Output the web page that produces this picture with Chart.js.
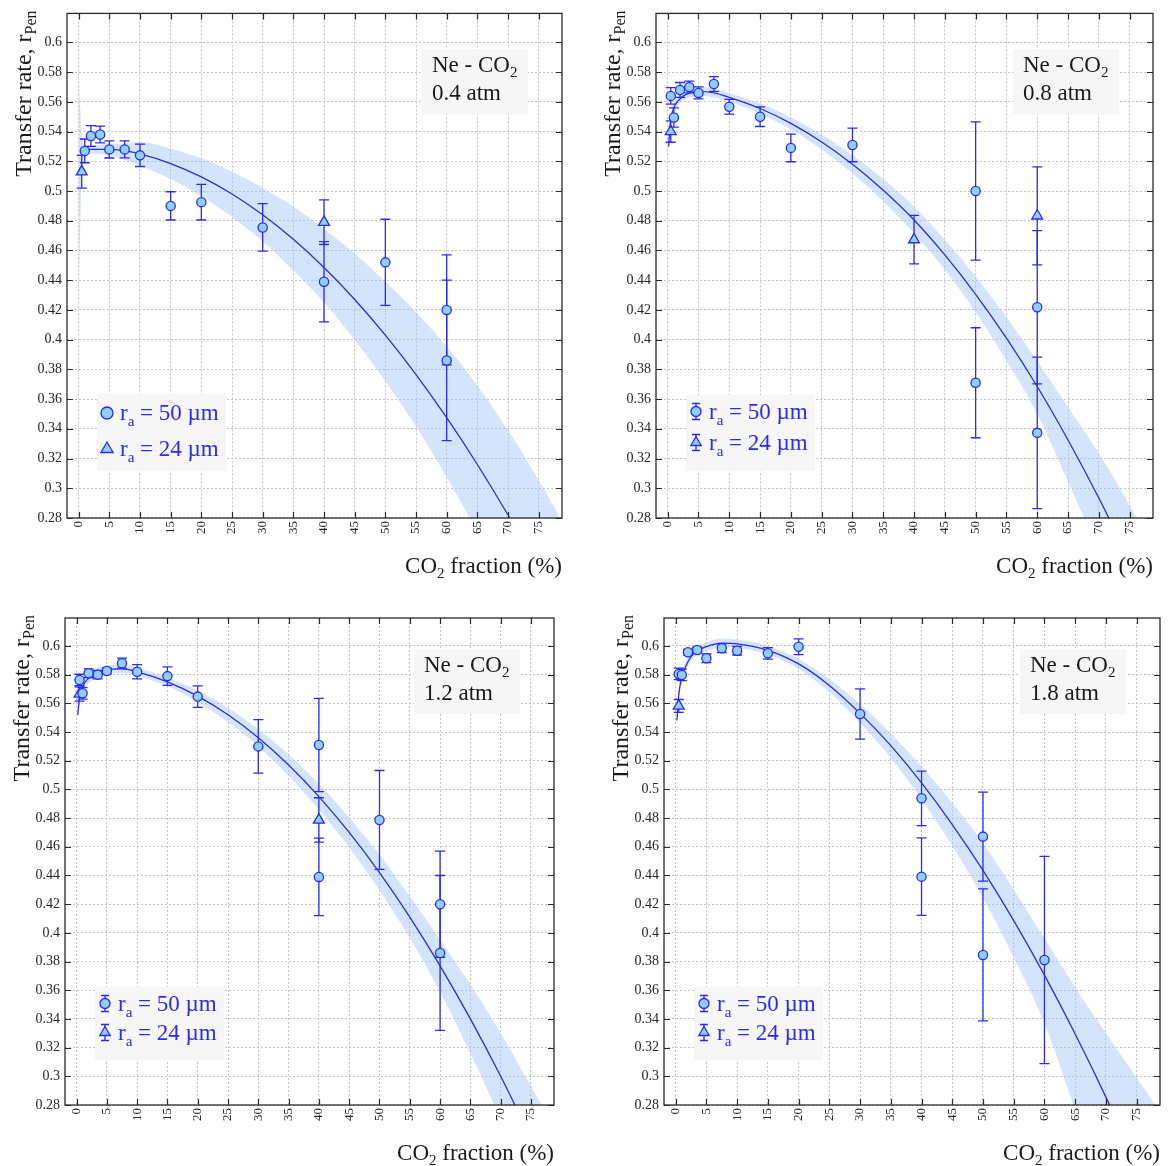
<!DOCTYPE html>
<html>
<head>
<meta charset="utf-8">
<title>Transfer rate vs CO2 fraction</title>
<script src="https://cdn.jsdelivr.net/npm/chart.js@4.4.1/dist/chart.umd.min.js"></script>
<style>
  html, body { margin: 0; padding: 0; background: #fff; overflow: hidden; }
  .panel { position: absolute; width: 584px; height: 583px; }
</style>
</head>
<body>
<div class="panel" style="left:0;top:0"><canvas id="c1" width="584" height="583"></canvas></div>
<div class="panel" style="left:584px;top:0"><canvas id="c2" width="584" height="583"></canvas></div>
<div class="panel" style="left:0;top:583px"><canvas id="c3" width="584" height="583"></canvas></div>
<div class="panel" style="left:584px;top:583px"><canvas id="c4" width="584" height="583"></canvas></div>
<script>
// axis ticks
const xTicks = [0, 5, 10, 15, 20, 25, 30, 35, 40, 45, 50, 55, 60, 65, 70, 75];
const yTicks = [0.28, 0.30, 0.32, 0.34, 0.36, 0.38, 0.40, 0.42, 0.44, 0.46, 0.48, 0.50, 0.52, 0.54, 0.56, 0.58, 0.60];
const pressures = ['0.4 atm', '0.8 atm', '1.2 atm', '1.8 atm'];

// ---- 0.4 atm ----
const p1CircX = [1, 2, 3.5, 5, 7.5, 10, 15, 20, 30, 40, 50, 60, 60];
const p1CircY = [0.527, 0.537, 0.538, 0.528, 0.528, 0.524, 0.490, 0.4925, 0.4755, 0.439, 0.452, 0.420, 0.386];
const p1CircE = [0.008, 0.007, 0.0056, 0.0058, 0.0057, 0.0075, 0.0095, 0.012, 0.016, 0.027, 0.029, 0.037, 0.054];
const p1TriX = [0.5, 40];
const p1TriY = [0.513, 0.479];
const p1TriE = [0.011, 0.015];
const p1FitX = [0.7, 1, 2, 3, 5, 7.5, 10, 15, 20, 25, 30, 35, 40, 45, 50, 55, 60, 65, 70, 75];
const p1FitY = [0.527, 0.5275, 0.528, 0.528, 0.528, 0.527, 0.525, 0.5185, 0.5095, 0.498, 0.484, 0.4675, 0.4485, 0.427, 0.403, 0.3765, 0.3475, 0.316, 0.282, 0.2455];
const p1BandX = [0.05, 0.25, 0.5, 1, 2, 3, 5, 7.5, 10, 15, 20, 25, 30, 35, 40, 45, 50, 55, 60, 65, 70, 75, 80];
const p1BandHi = [0.578, 0.556, 0.538, 0.531, 0.531, 0.531, 0.532, 0.532, 0.533, 0.5285, 0.522, 0.513, 0.502, 0.4895, 0.4745, 0.458, 0.439, 0.4185, 0.3955, 0.369, 0.339, 0.3055, 0.269];
const p1BandLo = [0.435, 0.47, 0.51, 0.523, 0.525, 0.525, 0.524, 0.521, 0.517, 0.508, 0.4965, 0.4825, 0.466, 0.4465, 0.425, 0.400, 0.372, 0.3415, 0.3075, 0.271, 0.232, 0.19, 0.15];

// ---- 0.8 atm ----
const p2CircX = [0.5, 1, 2, 3.5, 5, 7.5, 10, 15, 20, 30, 50, 50, 60, 60];
const p2CircY = [0.564, 0.5495, 0.568, 0.570, 0.566, 0.572, 0.5567, 0.550, 0.529, 0.531, 0.500, 0.371, 0.4218, 0.3373];
const p2CircE = [0.0055, 0.0065, 0.005, 0.004, 0.004, 0.005, 0.005, 0.0066, 0.0093, 0.0113, 0.0465, 0.037, 0.0516, 0.051];
const p2TriX = [0.5, 40, 60];
const p2TriY = [0.540, 0.4673, 0.4833];
const p2TriE = [0.0072, 0.0163, 0.033];
const p2FitX = [0.15, 0.3, 0.5, 1, 2, 3, 5, 7.5, 10, 15, 20, 25, 30, 35, 40, 45, 50, 55, 60, 65, 70, 75];
const p2FitY = [0.53, 0.54, 0.548, 0.556, 0.562, 0.565, 0.567, 0.566, 0.563, 0.5555, 0.5455, 0.533, 0.518, 0.5005, 0.4805, 0.457, 0.4305, 0.401, 0.3685, 0.3325, 0.2935, 0.2515];
const p2BandX = [0.15, 0.3, 0.5, 1, 2, 3, 5, 7.5, 10, 15, 20, 25, 30, 35, 40, 45, 50, 55, 60, 65, 70, 75, 80];
const p2BandHi = [0.534, 0.544, 0.551, 0.559, 0.565, 0.568, 0.570, 0.569, 0.566, 0.559, 0.5495, 0.538, 0.524, 0.508, 0.4895, 0.467, 0.4425, 0.415, 0.3855, 0.3545, 0.3235, 0.2885, 0.25];
const p2BandLo = [0.526, 0.536, 0.545, 0.553, 0.559, 0.562, 0.564, 0.563, 0.560, 0.552, 0.5415, 0.528, 0.512, 0.493, 0.4715, 0.447, 0.4185, 0.386, 0.350, 0.3045, 0.2575, 0.21, 0.16];

// ---- 1.2 atm ----
const p3CircX = [0.5, 1, 2, 3.5, 5, 7.5, 10, 15, 20, 30, 40, 40, 50, 60, 60];
const p3CircY = [0.5763, 0.567, 0.581, 0.580, 0.5826, 0.588, 0.582, 0.579, 0.5647, 0.530, 0.531, 0.439, 0.4787, 0.420, 0.386];
const p3CircE = [0.004, 0.004, 0.003, 0.003, 0.002, 0.0035, 0.005, 0.0064, 0.0075, 0.0186, 0.0325, 0.027, 0.0345, 0.037, 0.054];
const p3TriX = [0.5, 40];
const p3TriY = [0.5665, 0.4787];
const p3TriE = [0.005, 0.0155];
const p3FitX = [0.2, 0.5, 1, 2, 3, 5, 7.5, 10, 15, 20, 25, 30, 35, 40, 45, 50, 55, 60, 65, 70, 75];
const p3FitY = [0.552, 0.5635, 0.5715, 0.5775, 0.5805, 0.5835, 0.584, 0.582, 0.575, 0.565, 0.552, 0.536, 0.517, 0.495, 0.470, 0.442, 0.411, 0.377, 0.340, 0.300, 0.257];
const p3BandX = [0.2, 0.5, 1, 2, 3, 5, 7.5, 10, 15, 20, 25, 30, 35, 40, 45, 50, 55, 60, 65, 70, 75, 80];
const p3BandHi = [0.556, 0.567, 0.575, 0.581, 0.584, 0.5865, 0.587, 0.585, 0.578, 0.569, 0.557, 0.542, 0.5245, 0.504, 0.4805, 0.4545, 0.4255, 0.395, 0.364, 0.330, 0.293, 0.256];
const p3BandLo = [0.548, 0.560, 0.568, 0.574, 0.577, 0.5805, 0.581, 0.579, 0.572, 0.561, 0.547, 0.530, 0.5095, 0.486, 0.4595, 0.4295, 0.3965, 0.359, 0.316, 0.27, 0.221, 0.17];

// ---- 1.8 atm ----
const p4CircX = [0.5, 1, 2, 3.5, 5, 7.5, 10, 15, 20, 30, 40, 40, 50, 50, 60];
const p4CircY = [0.5805, 0.5798, 0.5956, 0.5972, 0.5914, 0.5984, 0.5967, 0.5949, 0.5995, 0.5526, 0.4938, 0.4392, 0.4671, 0.3846, 0.3811];
const p4CircE = [0.004, 0.004, 0.002, 0.002, 0.003, 0.003, 0.003, 0.004, 0.0055, 0.0175, 0.019, 0.027, 0.031, 0.046, 0.0722];
const p4TriX = [0.5];
const p4TriY = [0.5582];
const p4TriE = [0.0045];
const p4FitX = [0.2, 0.5, 1, 2, 3, 5, 7.5, 10, 15, 20, 25, 30, 35, 40, 45, 50, 55, 60, 65, 70, 75];
const p4FitY = [0.548, 0.566, 0.578, 0.589, 0.595, 0.5995, 0.602, 0.6015, 0.597, 0.5875, 0.5725, 0.553, 0.5305, 0.5045, 0.4755, 0.4435, 0.4085, 0.3705, 0.3295, 0.2855, 0.2385];
const p4BandX = [0.2, 0.5, 1, 2, 3, 5, 7.5, 10, 15, 20, 25, 30, 35, 40, 45, 50, 55, 60, 65, 70, 75, 80];
const p4BandHi = [0.553, 0.570, 0.581, 0.592, 0.598, 0.6025, 0.605, 0.6045, 0.600, 0.591, 0.577, 0.5595, 0.539, 0.516, 0.4905, 0.4625, 0.430, 0.396, 0.362, 0.330, 0.299, 0.268];
const p4BandLo = [0.543, 0.562, 0.575, 0.586, 0.592, 0.5965, 0.599, 0.5985, 0.594, 0.584, 0.568, 0.5465, 0.522, 0.493, 0.4605, 0.4245, 0.383, 0.337, 0.277, 0.22, 0.17, 0.12];

const BLUE = '#2a2af0';
const FIT_BLUE = '#2d2dd8';
const MARK_FILL = '#8fd0fb';
const BAND = 'rgba(160, 195, 250, 0.45)';
const SERIF = '"Liberation Serif", "DejaVu Serif", serif';

// where each plot area sits inside its 584x583 canvas
const layouts = [
  { yW: 67, padTop: 8, padRight: 22, xH: 65, boxTop: 36, legBottom: 47, legH: 77, rowA: 19, rowB: 55, errMarks: false },
  { yW: 72, padTop: 8, padRight: 15, xH: 65, boxTop: 36, legBottom: 47, legH: 76, rowA: 16.5, rowB: 47.5, errMarks: true },
  { yW: 65, padTop: 35, padRight: 30, xH: 61, boxTop: 31, legBottom: 45, legH: 73, rowA: 16.5, rowB: 45.5, errMarks: true },
  { yW: 80, padTop: 35, padRight: 8, xH: 61, boxTop: 31, legBottom: 45, legH: 73, rowA: 16.5, rowB: 45.5, errMarks: true }
];

const panelData = [
  [p1CircX, p1CircY, p1CircE, p1TriX, p1TriY, p1TriE, p1FitX, p1FitY, p1BandX, p1BandHi, p1BandLo],
  [p2CircX, p2CircY, p2CircE, p2TriX, p2TriY, p2TriE, p2FitX, p2FitY, p2BandX, p2BandHi, p2BandLo],
  [p3CircX, p3CircY, p3CircE, p3TriX, p3TriY, p3TriE, p3FitX, p3FitY, p3BandX, p3BandHi, p3BandLo],
  [p4CircX, p4CircY, p4CircE, p4TriX, p4TriY, p4TriE, p4FitX, p4FitY, p4BandX, p4BandHi, p4BandLo]
];

const pts = (xs, ys) => xs.map((v, i) => ({ x: v, y: ys[i] }));

// text with subscript pieces
function richText(ctx, parts, x, y, align) {
  let total = 0;
  const widths = parts.map(p => {
    ctx.font = p.size + 'px ' + SERIF;
    const w = ctx.measureText(p.t).width;
    total += w;
    return w;
  });
  let cx = align === 'right' ? x - total : x;
  parts.forEach((p, i) => {
    ctx.font = p.size + 'px ' + SERIF;
    ctx.fillText(p.t, cx, y + (p.dy || 0));
    cx += widths[i];
  });
}

function marker(ctx, style, x, y, r) {
  ctx.beginPath();
  if (style === 'circle') {
    ctx.arc(x, y, r, 0, Math.PI * 2);
  } else {
    for (let k = 0; k < 3; k++) {
      const a = -Math.PI / 2 + k * 2 * Math.PI / 3;
      const px = x + r * Math.cos(a), py = y + r * Math.sin(a);
      k ? ctx.lineTo(px, py) : ctx.moveTo(px, py);
    }
    ctx.closePath();
  }
  ctx.fillStyle = MARK_FILL;
  ctx.fill();
  ctx.lineWidth = 1.3;
  ctx.strokeStyle = BLUE;
  ctx.stroke();
}

function makeChart(id, idx) {
  const L = layouts[idx];
  const [cx, cy, ce, tx, ty, te, fx, fy, bx, bhi, blo] = panelData[idx];

  const deco = {
    id: 'deco' + idx,
    beforeDatasetDraw(chart, args) {
      const ds = chart.data.datasets[args.index];
      if (!ds.errors) return;
      const { ctx, chartArea: a, scales: { x, y } } = chart;
      ctx.save();
      ctx.beginPath();
      ctx.rect(a.left, a.top, a.right - a.left, a.bottom - a.top);
      ctx.clip();
      ctx.strokeStyle = BLUE;
      ctx.lineWidth = 1.3;
      ds.data.forEach((p, i) => {
        const px = x.getPixelForValue(p.x);
        const top = y.getPixelForValue(p.y + ds.errors[i]);
        const bot = y.getPixelForValue(p.y - ds.errors[i]);
        ctx.beginPath();
        ctx.moveTo(px, top); ctx.lineTo(px, bot);
        ctx.moveTo(px - 5, top); ctx.lineTo(px + 5, top);
        ctx.moveTo(px - 5, bot); ctx.lineTo(px + 5, bot);
        ctx.stroke();
      });
      ctx.restore();
    },
    afterDatasetsDraw(chart) {
      const { ctx, chartArea: a } = chart;
      ctx.save();
      // gas label box
      const bw = 106, bh = 65;
      const bl = a.right - 34 - bw, bt = a.top + L.boxTop;
      ctx.fillStyle = '#f6f6f6';
      ctx.fillRect(bl, bt, bw, bh);
      ctx.fillStyle = '#1a1a1a';
      ctx.textBaseline = 'alphabetic';
      richText(ctx, [{ t: 'Ne - CO', size: 23 }, { t: '2', size: 15, dy: 5 }], bl + 10, bt + 23, 'left');
      richText(ctx, [{ t: pressures[idx], size: 23 }], bl + 10, bt + 51, 'left');
      // legend box
      const lw = 129;
      const ll = a.left + 30, lt = a.bottom - L.legBottom - L.legH;
      ctx.fillStyle = '#f6f6f6';
      ctx.fillRect(ll, lt, lw, L.legH);
      const rows = [[L.rowA, 'circle', '50'], [L.rowB, 'triangle', '24']];
      rows.forEach(([dy, style, val]) => {
        const my = lt + dy, mx = ll + 10;
        if (L.errMarks) {
          ctx.strokeStyle = BLUE;
          ctx.lineWidth = 1.3;
          ctx.beginPath();
          ctx.moveTo(mx, my - 8); ctx.lineTo(mx, my + 8);
          ctx.moveTo(mx - 4, my - 8); ctx.lineTo(mx + 4, my - 8);
          ctx.moveTo(mx - 4, my + 8); ctx.lineTo(mx + 4, my + 8);
          ctx.stroke();
          marker(ctx, style, mx, my, style === 'circle' ? 5 : 6);
        } else {
          marker(ctx, style, mx, my, style === 'circle' ? 6 : 7);
        }
        ctx.fillStyle = BLUE;
        richText(ctx, [{ t: 'r', size: 23 }, { t: 'a', size: 15, dy: 6 }, { t: ' = ' + val + ' \u00b5m', size: 23 }], ll + 23, my + 7, 'left');
      });
      ctx.restore();
    },
    afterDraw(chart) {
      const { ctx, chartArea: a, scales: { x, y } } = chart;
      ctx.save();
      ctx.strokeStyle = '#2a2a2a';
      ctx.lineWidth = 1.2;
      ctx.beginPath();
      xTicks.forEach(v => {
        const px = Math.round(x.getPixelForValue(v)) + 0.5;
        ctx.moveTo(px, a.bottom); ctx.lineTo(px, a.bottom - 6);
        ctx.moveTo(px, a.top); ctx.lineTo(px, a.top + 6);
      });
      yTicks.forEach(v => {
        const py = Math.round(y.getPixelForValue(v)) + 0.5;
        ctx.moveTo(a.left, py); ctx.lineTo(a.left + 6, py);
        ctx.moveTo(a.right, py); ctx.lineTo(a.right - 6, py);
      });
      ctx.stroke();
      ctx.lineWidth = 1.3;
      ctx.strokeRect(a.left, a.top, a.right - a.left, a.bottom - a.top);

      // axis titles
      ctx.fillStyle = '#1a1a1a';
      ctx.textBaseline = 'alphabetic';
      richText(ctx, [{ t: 'CO', size: 23 }, { t: '2', size: 15, dy: 5 }, { t: ' fraction (%)', size: 23 }], a.right, a.bottom + 55, 'right');
      ctx.translate(a.left - 36, a.top - 3);
      ctx.rotate(-Math.PI / 2);
      richText(ctx, [{ t: 'Transfer rate, r', size: 24 }, { t: 'Pen', size: 16, dy: 5 }], 0, 0, 'right');
      ctx.restore();
    }
  };

  return new Chart(document.getElementById(id), {
    type: 'scatter',
    data: {
      datasets: [
        {
          label: 'r_a = 50 \u00b5m', data: pts(cx, cy), errors: ce,
          pointStyle: 'circle', pointRadius: 4.6, pointBackgroundColor: MARK_FILL,
          pointBorderColor: BLUE, pointBorderWidth: 1.3
        },
        {
          label: 'r_a = 24 \u00b5m', data: pts(tx, ty), errors: te,
          pointStyle: 'triangle', pointRadius: 6.3, pointBackgroundColor: MARK_FILL,
          pointBorderColor: BLUE, pointBorderWidth: 1.3
        },
        {
          type: 'line', label: 'fit', data: pts(fx, fy),
          borderColor: FIT_BLUE, borderWidth: 1.3, pointRadius: 0,
          cubicInterpolationMode: 'monotone', fill: false
        },
        {
          type: 'line', label: 'band upper', data: pts(bx, bhi),
          borderColor: 'rgba(0,0,0,0)', borderWidth: 0, pointRadius: 0,
          cubicInterpolationMode: 'monotone', fill: '+1', backgroundColor: BAND
        },
        {
          type: 'line', label: 'band lower', data: pts(bx, blo),
          borderColor: 'rgba(0,0,0,0)', borderWidth: 0, pointRadius: 0,
          cubicInterpolationMode: 'monotone', fill: false
        }
      ]
    },
    options: {
      responsive: false,
      animation: false,
      events: [],
      layout: { padding: { top: L.padTop, right: L.padRight, left: 0, bottom: 0 } },
      plugins: { legend: { display: false }, tooltip: { enabled: false } },
      scales: {
        x: {
          type: 'linear', min: -1.9, max: 78.8,
          afterBuildTicks: s => { s.ticks = xTicks.map(v => ({ value: v })); },
          afterFit: s => { s.height = L.xH; },
          ticks: {
            minRotation: 90, maxRotation: 90, padding: 3,
            color: '#262626', font: { family: SERIF, size: 13 }
          },
          grid: { color: '#c4c4c4', lineWidth: 1, drawTicks: false },
          border: { display: false, dash: [2, 2] }
        },
        y: {
          type: 'linear', min: 0.28, max: 0.6195,
          afterBuildTicks: s => { s.ticks = yTicks.map(v => ({ value: v })); },
          afterFit: s => { s.width = L.yW; },
          ticks: {
            padding: 5, color: '#262626', font: { family: SERIF, size: 14 },
            callback: v => String(+v.toFixed(2))
          },
          grid: { color: '#c4c4c4', lineWidth: 1, drawTicks: false },
          border: { display: false, dash: [2, 2] }
        }
      }
    },
    plugins: [deco]
  });
}

['c1', 'c2', 'c3', 'c4'].forEach((id, i) => makeChart(id, i));
</script>
</body>
</html>
